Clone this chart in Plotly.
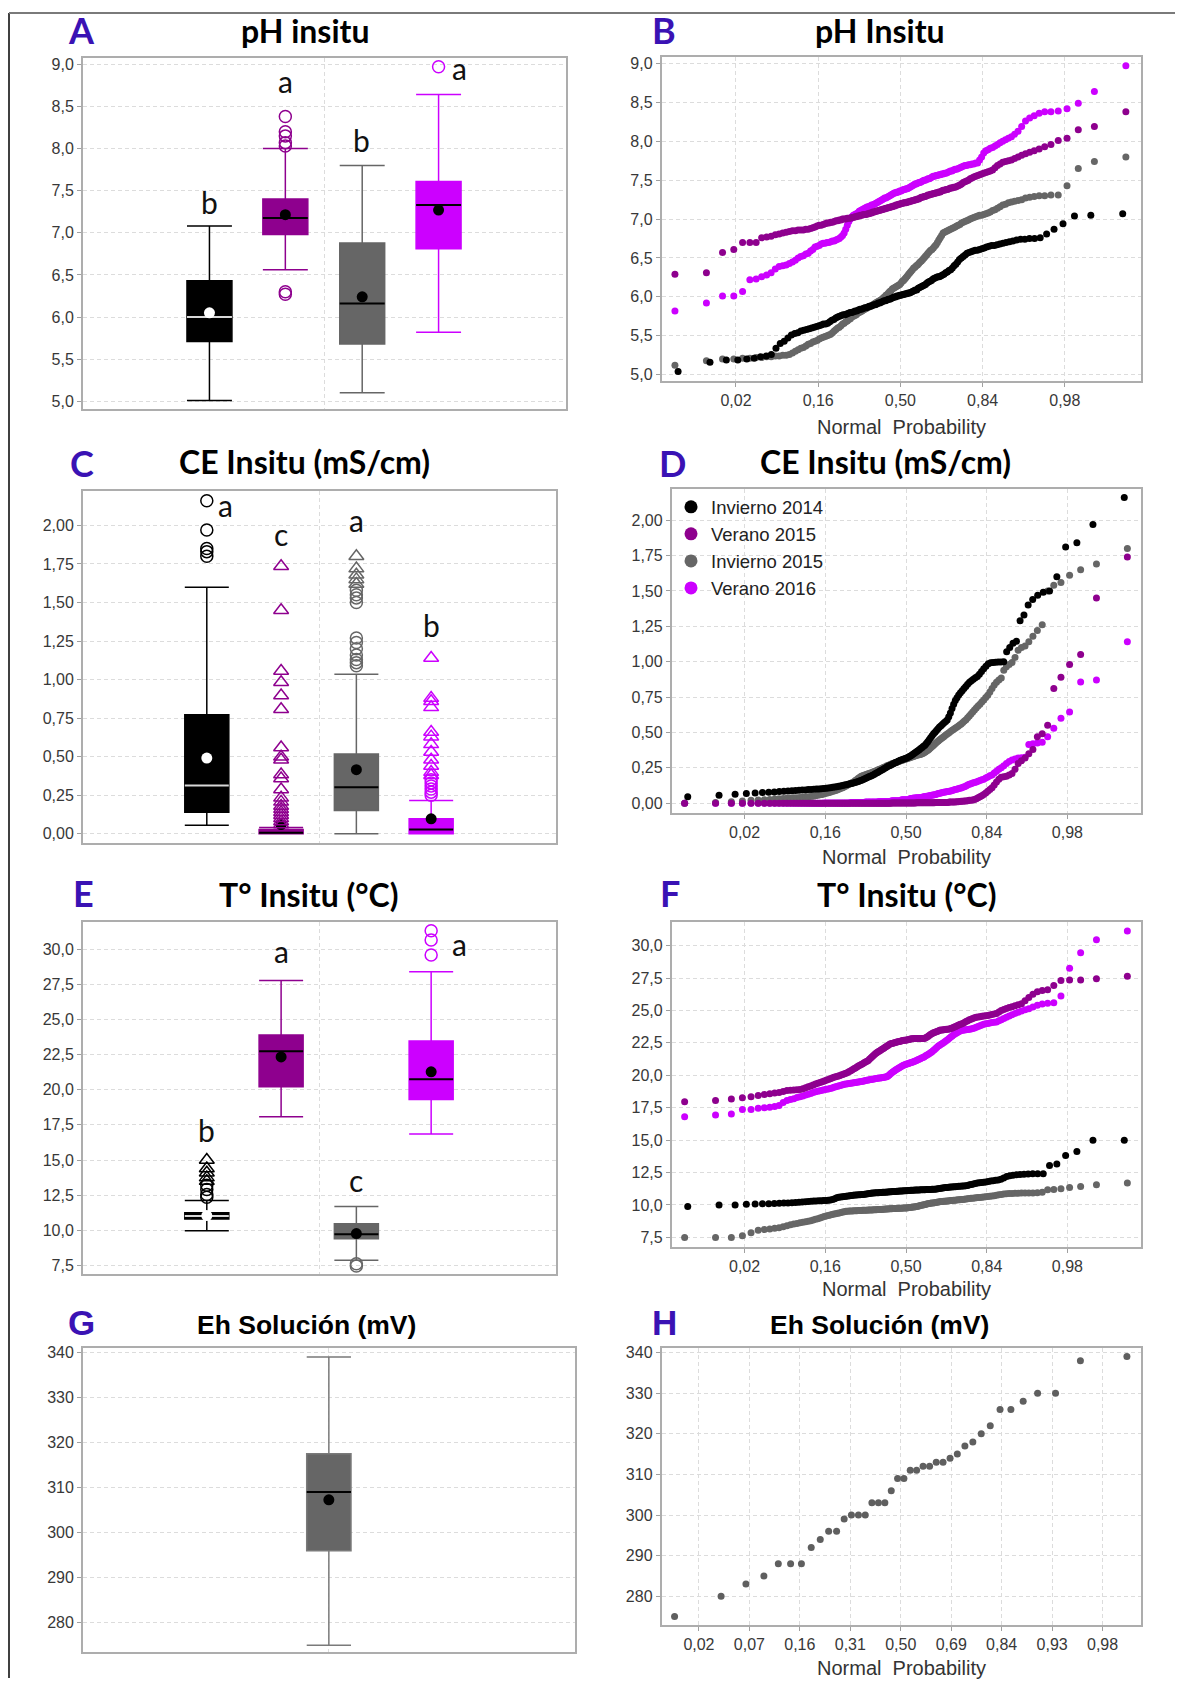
import numpy as np
import plotly.graph_objects as go
from statistics import NormalDist

# ------------------------------------------------------------------ DATA
SERIES = ["Invierno 2014", "Verano 2015", "Invierno 2015", "Verano 2016"]

# pH in situ (sorted values per campaign)
PH_INV14 = [5.04, 5.16, 5.19, 5.19, 5.20, 5.21, 5.23, 5.24, 5.26, 5.34,
            5.40, 5.43, 5.47, 5.51, 5.53, 5.54, 5.56, 5.57, 5.58, 5.59,
            5.60, 5.61, 5.62, 5.63, 5.64, 5.65, 5.65, 5.66, 5.68, 5.70,
            5.71, 5.73, 5.74, 5.75, 5.76, 5.77, 5.77, 5.78, 5.79, 5.80,
            5.80, 5.81, 5.82, 5.82, 5.83, 5.84, 5.84, 5.85, 5.86, 5.86,
            5.87, 5.88, 5.88, 5.89, 5.90, 5.90, 5.91, 5.92, 5.92, 5.93,
            5.94, 5.95, 5.95, 5.96, 5.97, 5.97, 5.98, 5.99, 6.00, 6.00,
            6.01, 6.01, 6.02, 6.02, 6.03, 6.03, 6.04, 6.04, 6.05, 6.05,
            6.06, 6.07, 6.08, 6.09, 6.09, 6.11, 6.12, 6.13, 6.14, 6.15,
            6.16, 6.18, 6.19, 6.20, 6.21, 6.23, 6.24, 6.25, 6.26, 6.26,
            6.27, 6.28, 6.29, 6.31, 6.32, 6.34, 6.35, 6.37, 6.40, 6.42,
            6.45, 6.48, 6.50, 6.52, 6.54, 6.56, 6.57, 6.58, 6.59, 6.60,
            6.60, 6.61, 6.62, 6.63, 6.64, 6.65, 6.66, 6.66, 6.67, 6.68,
            6.69, 6.70, 6.71, 6.72, 6.73, 6.74, 6.74, 6.75, 6.75, 6.76,
            6.81, 6.87, 6.94, 7.04, 7.05, 7.07]
PH_VER15 = [6.29, 6.31, 6.57, 6.61, 6.70, 6.70, 6.70, 6.76, 6.77, 6.78,
            6.80, 6.81, 6.82, 6.83, 6.84, 6.85, 6.85, 6.86, 6.86, 6.86,
            6.87, 6.87, 6.88, 6.89, 6.90, 6.91, 6.92, 6.92, 6.93, 6.94,
            6.95, 6.95, 6.96, 6.96, 6.97, 6.98, 6.98, 6.99, 6.99, 7.00,
            7.00, 7.00, 7.01, 7.01, 7.01, 7.02, 7.02, 7.03, 7.03, 7.04,
            7.04, 7.05, 7.05, 7.06, 7.06, 7.06, 7.07, 7.07, 7.08, 7.08,
            7.09, 7.09, 7.10, 7.10, 7.11, 7.11, 7.12, 7.12, 7.13, 7.13,
            7.14, 7.14, 7.15, 7.15, 7.16, 7.16, 7.17, 7.17, 7.18, 7.18,
            7.19, 7.19, 7.20, 7.20, 7.21, 7.21, 7.21, 7.22, 7.22, 7.23,
            7.23, 7.24, 7.24, 7.25, 7.25, 7.26, 7.26, 7.27, 7.28, 7.28,
            7.29, 7.29, 7.30, 7.31, 7.31, 7.32, 7.32, 7.33, 7.33, 7.34,
            7.34, 7.35, 7.35, 7.36, 7.37, 7.37, 7.38, 7.38, 7.39, 7.40,
            7.40, 7.41, 7.41, 7.42, 7.43, 7.44, 7.45, 7.47, 7.48, 7.49,
            7.50, 7.52, 7.53, 7.54, 7.55, 7.56, 7.57, 7.58, 7.59, 7.60,
            7.61, 7.62, 7.63, 7.66, 7.69, 7.71, 7.73, 7.74, 7.75, 7.76,
            7.78, 7.80, 7.82, 7.84, 7.86, 7.88, 7.90, 7.93, 7.96, 8.01,
            8.04, 8.15, 8.19, 8.38]
PH_INV15 = [5.12, 5.18, 5.20, 5.20, 5.21, 5.21, 5.22, 5.22, 5.23, 5.23,
            5.24, 5.24, 5.25, 5.25, 5.26, 5.28, 5.30, 5.32, 5.34, 5.35,
            5.37, 5.39, 5.40, 5.42, 5.43, 5.44, 5.46, 5.47, 5.48, 5.49,
            5.50, 5.51, 5.52, 5.54, 5.56, 5.58, 5.60, 5.61, 5.63, 5.65,
            5.66, 5.68, 5.69, 5.71, 5.72, 5.74, 5.75, 5.76, 5.77, 5.79,
            5.80, 5.81, 5.82, 5.83, 5.84, 5.85, 5.86, 5.87, 5.88, 5.89,
            5.90, 5.91, 5.92, 5.93, 5.94, 5.95, 5.96, 5.97, 5.99, 6.00,
            6.02, 6.03, 6.05, 6.07, 6.08, 6.10, 6.11, 6.12, 6.13, 6.14,
            6.15, 6.16, 6.18, 6.20, 6.21, 6.23, 6.25, 6.27, 6.29, 6.31,
            6.33, 6.35, 6.37, 6.38, 6.40, 6.41, 6.43, 6.45, 6.46, 6.48,
            6.50, 6.52, 6.54, 6.56, 6.58, 6.60, 6.61, 6.63, 6.65, 6.67,
            6.70, 6.73, 6.76, 6.79, 6.82, 6.83, 6.84, 6.85, 6.86, 6.87,
            6.88, 6.89, 6.90, 6.91, 6.92, 6.93, 6.95, 6.96, 6.97, 6.98,
            6.99, 7.00, 7.01, 7.02, 7.03, 7.04, 7.05, 7.05, 7.06, 7.07,
            7.08, 7.09, 7.11, 7.12, 7.14, 7.16, 7.18, 7.19, 7.21, 7.22,
            7.23, 7.24, 7.25, 7.27, 7.28, 7.29, 7.30, 7.30, 7.31, 7.31,
            7.43, 7.65, 7.74, 7.80]
PH_VER16 = [5.82, 5.92, 6.01, 6.01, 6.07, 6.22, 6.23, 6.26, 6.28, 6.31,
            6.36, 6.39, 6.40, 6.41, 6.43, 6.45, 6.47, 6.50, 6.52, 6.53,
            6.55, 6.56, 6.59, 6.61, 6.64, 6.65, 6.66, 6.68, 6.69, 6.69,
            6.70, 6.70, 6.71, 6.72, 6.72, 6.73, 6.74, 6.75, 6.77, 6.79,
            6.82, 6.87, 6.92, 6.97, 7.00, 7.03, 7.05, 7.06, 7.07, 7.08,
            7.10, 7.11, 7.12, 7.13, 7.14, 7.15, 7.16, 7.16, 7.17, 7.18,
            7.18, 7.19, 7.20, 7.21, 7.22, 7.23, 7.24, 7.25, 7.26, 7.27,
            7.27, 7.28, 7.29, 7.30, 7.31, 7.32, 7.33, 7.34, 7.34, 7.35,
            7.35, 7.36, 7.36, 7.37, 7.38, 7.38, 7.39, 7.39, 7.40, 7.41,
            7.42, 7.43, 7.44, 7.45, 7.45, 7.46, 7.47, 7.47, 7.48, 7.49,
            7.50, 7.50, 7.51, 7.52, 7.52, 7.53, 7.54, 7.55, 7.55, 7.56,
            7.56, 7.57, 7.57, 7.58, 7.58, 7.59, 7.59, 7.60, 7.61, 7.62,
            7.62, 7.63, 7.64, 7.64, 7.65, 7.66, 7.67, 7.68, 7.69, 7.69,
            7.70, 7.70, 7.71, 7.71, 7.72, 7.72, 7.76, 7.80, 7.85, 7.88,
            7.89, 7.91, 7.92, 7.94, 7.96, 7.98, 8.00, 8.02, 8.04, 8.06,
            8.09, 8.13, 8.19, 8.26, 8.30, 8.33, 8.36, 8.38, 8.38, 8.39,
            8.42, 8.49, 8.64, 8.97]

# CE in situ (mS/cm)
CE_INV14 = [0.045, 0.056, 0.063, 0.068, 0.072, 0.076, 0.078, 0.080, 0.082, 0.085,
            0.087, 0.088, 0.090, 0.091, 0.093, 0.094, 0.096, 0.097, 0.099, 0.100,
            0.101, 0.102, 0.104, 0.106, 0.108, 0.110, 0.112, 0.114, 0.117, 0.120,
            0.122, 0.125, 0.128, 0.131, 0.134, 0.137, 0.140, 0.143, 0.146, 0.150,
            0.154, 0.158, 0.163, 0.168, 0.173, 0.178, 0.183, 0.188, 0.193, 0.198,
            0.203, 0.209, 0.215, 0.221, 0.227, 0.233, 0.239, 0.245, 0.251, 0.257,
            0.262, 0.267, 0.272, 0.277, 0.282, 0.287, 0.292, 0.297, 0.301, 0.305,
            0.309, 0.313, 0.316, 0.320, 0.324, 0.330, 0.336, 0.342, 0.349, 0.356,
            0.363, 0.370, 0.378, 0.386, 0.394, 0.402, 0.410, 0.422, 0.435, 0.448,
            0.462, 0.476, 0.490, 0.502, 0.514, 0.526, 0.538, 0.548, 0.558, 0.568,
            0.578, 0.588, 0.610, 0.638, 0.670, 0.700, 0.725, 0.745, 0.765, 0.780,
            0.795, 0.810, 0.825, 0.840, 0.855, 0.866, 0.876, 0.886, 0.896, 0.912,
            0.930, 0.950, 0.968, 0.985, 0.992, 0.995, 0.996, 0.997, 0.998, 1.000,
            1.070, 1.100, 1.130, 1.145, 1.290, 1.330, 1.400, 1.440, 1.470, 1.490,
            1.500, 1.600, 1.810, 1.840, 1.970, 2.160]
CE_VER15 = [0.000, 0.000, 0.000, 0.000, 0.000, 0.000, 0.000, 0.000, 0.000, 0.000,
            0.000, 0.000, 0.000, 0.000, 0.000, 0.000, 0.000, 0.000, 0.000, 0.000,
            0.000, 0.000, 0.000, 0.000, 0.000, 0.000, 0.000, 0.000, 0.000, 0.000,
            0.000, 0.000, 0.000, 0.000, 0.000, 0.000, 0.000, 0.000, 0.000, 0.000,
            0.000, 0.000, 0.000, 0.000, 0.000, 0.000, 0.000, 0.000, 0.000, 0.000,
            0.000, 0.000, 0.000, 0.000, 0.000, 0.000, 0.000, 0.000, 0.000, 0.000,
            0.000, 0.000, 0.000, 0.000, 0.000, 0.000, 0.000, 0.000, 0.000, 0.000,
            0.001, 0.001, 0.001, 0.001, 0.001, 0.001, 0.001, 0.001, 0.001, 0.001,
            0.001, 0.001, 0.001, 0.001, 0.001, 0.001, 0.001, 0.001, 0.001, 0.001,
            0.003, 0.003, 0.003, 0.003, 0.003, 0.003, 0.003, 0.003, 0.003, 0.003,
            0.003, 0.003, 0.003, 0.003, 0.003, 0.005, 0.005, 0.005, 0.005, 0.005,
            0.005, 0.005, 0.005, 0.005, 0.005, 0.008, 0.008, 0.008, 0.008, 0.008,
            0.010, 0.011, 0.012, 0.013, 0.014, 0.015, 0.016, 0.018, 0.020, 0.021,
            0.023, 0.026, 0.031, 0.038, 0.045, 0.052, 0.062, 0.072, 0.085, 0.097,
            0.110, 0.128, 0.150, 0.170, 0.183, 0.187, 0.190, 0.200, 0.210, 0.240,
            0.280, 0.300, 0.320, 0.350, 0.380, 0.470, 0.490, 0.550, 0.810, 0.890,
            0.980, 1.050, 1.450, 1.740]
CE_INV15 = [0.000, 0.005, 0.010, 0.015, 0.020, 0.022, 0.025, 0.027, 0.029, 0.031,
            0.033, 0.035, 0.036, 0.038, 0.039, 0.040, 0.042, 0.044, 0.046, 0.048,
            0.050, 0.053, 0.056, 0.059, 0.062, 0.066, 0.070, 0.074, 0.078, 0.082,
            0.086, 0.090, 0.095, 0.100, 0.105, 0.110, 0.116, 0.122, 0.128, 0.134,
            0.140, 0.146, 0.152, 0.160, 0.168, 0.176, 0.184, 0.190, 0.194, 0.198,
            0.201, 0.204, 0.208, 0.211, 0.214, 0.218, 0.222, 0.226, 0.230, 0.234,
            0.238, 0.242, 0.246, 0.250, 0.254, 0.258, 0.262, 0.266, 0.270, 0.274,
            0.278, 0.281, 0.284, 0.287, 0.290, 0.293, 0.296, 0.299, 0.302, 0.305,
            0.308, 0.311, 0.314, 0.317, 0.320, 0.323, 0.326, 0.329, 0.332, 0.335,
            0.338, 0.340, 0.342, 0.344, 0.347, 0.351, 0.356, 0.362, 0.368, 0.375,
            0.382, 0.390, 0.398, 0.406, 0.414, 0.424, 0.432, 0.440, 0.448, 0.455,
            0.463, 0.470, 0.478, 0.485, 0.492, 0.500, 0.508, 0.515, 0.522, 0.530,
            0.537, 0.544, 0.552, 0.560, 0.570, 0.580, 0.590, 0.603, 0.616, 0.630,
            0.644, 0.658, 0.672, 0.686, 0.700, 0.715, 0.730, 0.746, 0.762, 0.785,
            0.810, 0.835, 0.855, 0.870, 0.885, 0.940, 0.965, 0.980, 0.995, 1.030,
            1.080, 1.100, 1.110, 1.140, 1.180, 1.220, 1.260, 1.500, 1.540, 1.560,
            1.610, 1.650, 1.690, 1.800]
CE_VER16 = [0.000, 0.000, 0.000, 0.000, 0.000, 0.000, 0.000, 0.000, 0.000, 0.000,
            0.000, 0.000, 0.000, 0.000, 0.000, 0.000, 0.000, 0.000, 0.000, 0.000,
            0.000, 0.000, 0.000, 0.000, 0.000, 0.002, 0.002, 0.002, 0.002, 0.002,
            0.002, 0.002, 0.002, 0.002, 0.002, 0.002, 0.002, 0.002, 0.002, 0.002,
            0.005, 0.005, 0.005, 0.005, 0.005, 0.005, 0.005, 0.005, 0.005, 0.005,
            0.008, 0.008, 0.008, 0.008, 0.008, 0.008, 0.008, 0.008, 0.008, 0.008,
            0.012, 0.012, 0.012, 0.012, 0.012, 0.012, 0.012, 0.012, 0.012, 0.012,
            0.018, 0.018, 0.018, 0.018, 0.018, 0.018, 0.018, 0.018, 0.025, 0.025,
            0.025, 0.025, 0.025, 0.025, 0.025, 0.033, 0.034, 0.035, 0.036, 0.037,
            0.038, 0.038, 0.039, 0.040, 0.041, 0.043, 0.045, 0.047, 0.049, 0.050,
            0.052, 0.054, 0.056, 0.058, 0.060, 0.062, 0.065, 0.068, 0.070, 0.072,
            0.075, 0.077, 0.079, 0.081, 0.083, 0.085, 0.087, 0.090, 0.093, 0.096,
            0.099, 0.102, 0.105, 0.108, 0.112, 0.117, 0.122, 0.128, 0.134, 0.138,
            0.142, 0.146, 0.150, 0.155, 0.160, 0.165, 0.170, 0.178, 0.186, 0.194,
            0.200, 0.213, 0.226, 0.240, 0.250, 0.265, 0.280, 0.295, 0.305, 0.312,
            0.320, 0.322, 0.325, 0.415, 0.420, 0.425, 0.430, 0.470, 0.530, 0.600,
            0.645, 0.857, 0.871, 1.141]

# T in situ (°C)
T_INV14 = [9.89, 10.00, 10.00, 10.05, 10.08, 10.10, 10.10, 10.12, 10.14, 10.15,
           10.16, 10.18, 10.20, 10.21, 10.23, 10.25, 10.26, 10.28, 10.30, 10.31,
           10.32, 10.33, 10.34, 10.35, 10.37, 10.38, 10.42, 10.48, 10.55, 10.60,
           10.62, 10.64, 10.66, 10.68, 10.70, 10.72, 10.73, 10.75, 10.76, 10.77,
           10.78, 10.79, 10.80, 10.81, 10.83, 10.84, 10.86, 10.88, 10.90, 10.92,
           10.93, 10.94, 10.95, 10.95, 10.96, 10.97, 10.98, 10.98, 10.99, 11.00,
           11.00, 11.01, 11.02, 11.03, 11.03, 11.04, 11.05, 11.06, 11.07, 11.08,
           11.08, 11.09, 11.10, 11.10, 11.11, 11.12, 11.13, 11.13, 11.14, 11.15,
           11.15, 11.16, 11.16, 11.17, 11.17, 11.18, 11.18, 11.19, 11.19, 11.20,
           11.20, 11.21, 11.21, 11.22, 11.23, 11.25, 11.27, 11.29, 11.31, 11.33,
           11.34, 11.35, 11.36, 11.38, 11.39, 11.40, 11.41, 11.42, 11.44, 11.45,
           11.46, 11.47, 11.48, 11.51, 11.55, 11.58, 11.62, 11.66, 11.69, 11.71,
           11.73, 11.75, 11.78, 11.81, 11.84, 11.87, 11.90, 11.93, 11.98, 12.08,
           12.20, 12.25, 12.30, 12.33, 12.35, 12.37, 12.39, 12.40, 12.40, 12.40,
           13.04, 13.15, 13.81, 14.12, 15.00, 15.00]
T_VER15 = [17.96, 18.06, 18.17, 18.27, 18.35, 18.45, 18.52, 18.58, 18.63, 18.67,
           18.75, 18.82, 18.85, 18.87, 18.89, 18.91, 18.97, 19.04, 19.11, 19.18,
           19.25, 19.32, 19.38, 19.44, 19.50, 19.56, 19.62, 19.68, 19.74, 19.79,
           19.84, 19.88, 19.93, 19.97, 20.02, 20.07, 20.12, 20.15, 20.22, 20.29,
           20.36, 20.43, 20.50, 20.57, 20.64, 20.71, 20.77, 20.84, 20.90, 20.96,
           21.03, 21.09, 21.15, 21.25, 21.35, 21.45, 21.55, 21.65, 21.72, 21.79,
           21.85, 21.92, 21.99, 22.05, 22.11, 22.18, 22.24, 22.30, 22.37, 22.43,
           22.46, 22.48, 22.51, 22.53, 22.56, 22.58, 22.61, 22.63, 22.66, 22.68,
           22.70, 22.71, 22.73, 22.75, 22.77, 22.79, 22.81, 22.82, 22.83, 22.83,
           22.83, 22.83, 22.83, 22.83, 22.83, 22.83, 22.84, 22.88, 22.94, 23.00,
           23.07, 23.14, 23.21, 23.26, 23.30, 23.34, 23.38, 23.42, 23.47, 23.49,
           23.50, 23.52, 23.53, 23.55, 23.56, 23.58, 23.60, 23.65, 23.70, 23.75,
           23.81, 23.86, 23.91, 23.96, 24.00, 24.07, 24.14, 24.21, 24.28, 24.33,
           24.38, 24.43, 24.48, 24.50, 24.52, 24.55, 24.57, 24.59, 24.61, 24.65,
           24.69, 24.73, 24.77, 24.88, 24.99, 25.08, 25.15, 25.22, 25.28, 25.36,
           25.44, 25.51, 25.75, 26.00, 26.25, 26.45, 26.54, 26.60, 26.93, 27.31,
           27.35, 27.35, 27.44, 27.64]
T_INV15 = [7.49, 7.49, 7.49, 7.62, 7.85, 8.05, 8.10, 8.15, 8.20, 8.25,
           8.32, 8.40, 8.47, 8.53, 8.57, 8.62, 8.66, 8.70, 8.74, 8.79,
           8.84, 8.89, 8.94, 8.99, 9.05, 9.11, 9.14, 9.18, 9.22, 9.26,
           9.30, 9.33, 9.36, 9.39, 9.42, 9.45, 9.48, 9.51, 9.52, 9.53,
           9.53, 9.54, 9.55, 9.55, 9.56, 9.57, 9.58, 9.58, 9.59, 9.59,
           9.60, 9.60, 9.61, 9.61, 9.62, 9.62, 9.63, 9.64, 9.64, 9.65,
           9.65, 9.66, 9.66, 9.67, 9.67, 9.68, 9.68, 9.69, 9.70, 9.71,
           9.71, 9.72, 9.72, 9.73, 9.73, 9.74, 9.74, 9.75, 9.75, 9.76,
           9.76, 9.76, 9.77, 9.78, 9.80, 9.81, 9.82, 9.84, 9.85, 9.87,
           9.89, 9.91, 9.93, 9.95, 9.97, 10.00, 10.02, 10.04, 10.07, 10.10,
           10.12, 10.13, 10.15, 10.16, 10.18, 10.20, 10.21, 10.23, 10.24, 10.26,
           10.27, 10.28, 10.29, 10.30, 10.31, 10.32, 10.34, 10.35, 10.36, 10.37,
           10.38, 10.40, 10.41, 10.42, 10.43, 10.45, 10.46, 10.48, 10.49, 10.51,
           10.52, 10.54, 10.55, 10.57, 10.58, 10.60, 10.61, 10.63, 10.65, 10.67,
           10.70, 10.72, 10.75, 10.78, 10.81, 10.84, 10.86, 10.88, 10.89, 10.90,
           10.91, 10.92, 10.92, 10.92, 10.92, 10.95, 10.98, 11.17, 11.20, 11.25,
           11.35, 11.43, 11.56, 11.69]
T_VER16 = [16.81, 16.94, 17.01, 17.37, 17.37, 17.45, 17.50, 17.53, 17.60, 17.68,
           17.90, 18.06, 18.13, 18.20, 18.28, 18.35, 18.41, 18.48, 18.54, 18.60,
           18.67, 18.73, 18.77, 18.80, 18.84, 18.88, 18.92, 18.95, 18.99, 19.03,
           19.07, 19.11, 19.15, 19.19, 19.23, 19.27, 19.31, 19.33, 19.35, 19.37,
           19.38, 19.40, 19.42, 19.44, 19.46, 19.48, 19.50, 19.52, 19.55, 19.57,
           19.59, 19.61, 19.63, 19.66, 19.68, 19.70, 19.72, 19.74, 19.76, 19.77,
           19.79, 19.80, 19.82, 19.83, 19.85, 19.86, 19.88, 19.95, 20.03, 20.11,
           20.19, 20.27, 20.34, 20.40, 20.46, 20.52, 20.58, 20.64, 20.70, 20.76,
           20.80, 20.84, 20.87, 20.90, 20.93, 20.96, 20.99, 21.02, 21.06, 21.11,
           21.15, 21.20, 21.24, 21.28, 21.33, 21.37, 21.41, 21.48, 21.54, 21.60,
           21.67, 21.73, 21.80, 21.89, 21.98, 22.07, 22.16, 22.25, 22.32, 22.39,
           22.46, 22.53, 22.60, 22.68, 22.77, 22.86, 22.95, 23.04, 23.13, 23.20,
           23.27, 23.34, 23.40, 23.46, 23.48, 23.50, 23.52, 23.54, 23.56, 23.58,
           23.60, 23.65, 23.70, 23.76, 23.82, 23.88, 23.93, 23.97, 24.00, 24.04,
           24.07, 24.10, 24.12, 24.20, 24.29, 24.38, 24.47, 24.57, 24.67, 24.77,
           24.87, 24.96, 25.05, 25.13, 25.27, 25.40, 25.50, 25.55, 25.60, 26.11,
           28.26, 29.46, 30.46, 31.13]

# Eh solución (mV)
EH_SOL = [275, 280, 283, 285, 288, 288, 288, 292, 294, 296,
          296, 299, 300, 300, 300, 303, 303, 303, 306, 309,
          309, 311, 311, 312, 312, 313, 313, 314, 315, 317,
          318, 320, 322, 326, 326, 328, 330, 330, 338, 339]

PH_LO = [5.01, 6.56, 5.10, 5.82]
PH_Q1 = [5.71, 6.98, 5.68, 6.81]
PH_MED = [6.00, 7.175, 6.16, 7.33]
PH_Q3 = [6.43, 7.40, 6.88, 7.61]
PH_HI = [7.08, 8.00, 7.80, 8.64]
PH_MEAN = [6.05, 7.215, 6.24, 7.27]
PH_OUT_CIRC = [[], [8.38, 8.20, 8.15, 8.07, 8.03, 6.30, 6.27], [], [8.97]]
PH_OUT_TRI = [[], [], [], []]
PH_LETTERS = ["b", "a", "b", "a"]

CE_LO = [0.056, 0.0, 0.0, 0.0]
CE_Q1 = [0.140, 0.0, 0.151, 0.0]
CE_MED = [0.3125, 0.006, 0.302, 0.028]
CE_Q3 = [0.772, 0.028, 0.517, 0.097]
CE_HI = [1.599, 0.04, 1.034, 0.2155]
CE_MEAN = [0.491, 0.06, 0.416, 0.097]
CE_OUT_CIRC = [[2.16, 1.97, 1.85, 1.83, 1.80], [],
               [1.27, 1.24, 1.20, 1.16, 1.13, 1.11, 1.09, 1.58, 1.55, 1.53, 1.50],
               [0.35, 0.33, 0.31, 0.29, 0.27, 0.25]]
CE_OUT_TRI = [[],
              [1.735, 1.45, 1.056, 0.983, 0.897, 0.808, 0.56, 0.50, 0.48, 0.384, 0.358,
               0.287, 0.233, 0.207, 0.18, 0.16, 0.14, 0.12, 0.10, 0.08, 0.06],
              [1.80, 1.72, 1.68, 1.65, 1.62],
              [1.14, 0.88, 0.86, 0.82, 0.66, 0.63, 0.58, 0.53, 0.48, 0.44, 0.40, 0.38]]
CE_LETTERS = ["a", "c", "a", "b"]

T_LO = [9.98, 18.08, 7.88, 16.85]
T_Q1 = [10.80, 20.20, 9.41, 19.31]
T_MED = [11.02, 22.73, 9.72, 20.75]
T_Q3 = [11.25, 23.89, 10.47, 23.46]
T_HI = [12.13, 27.76, 11.70, 28.39]
T_MEAN = [11.05, 22.33, 9.77, 21.27]
T_OUT_CIRC = [[13.2, 12.9, 12.55, 12.35], [], [7.62, 7.46], [31.30, 30.64, 29.58]]
T_OUT_TRI = [[15.0, 14.4, 14.1, 13.75, 13.5], [], [], []]
T_LETTERS = ["b", "a", "c", "a"]

PROB_TICKS_Z = [-2, -1, 0, 1, 2]
PROB_TICKTEXT = ["0,02", "0,16", "0,50", "0,84", "0,98"]
EH_TICKS_Z = [-2, -1.5, -1, -0.5, 0, 0.5, 1, 1.5, 2]
EH_TICKTEXT = ["0,02", "0,07", "0,16", "0,31", "0,50", "0,69", "0,84", "0,93", "0,98"]

# ------------------------------------------------------------------ STYLE / LAYOUT
PAGE_W, PAGE_H = 1183, 1688
OFF = 8                       # default body margin of the html page
W, H = PAGE_W - 2 * OFF, PAGE_H - 2 * OFF
COLORS = ["#000000", "#8E008E", "#666666", "#CC00FF"]
LETTER_COLOR = "#3A12B4"
TICK_FONT = dict(family="Liberation Sans, Arial, sans-serif", size=16, color="#383838")
ARIAL_BOLD = "Liberation Sans, Arial, sans-serif"


def fx(x):
    return (x - OFF) / W


def fy(y):
    return 1 - (y - OFF) / H


# panel frames in page pixels: left, top, right, bottom
FRAMES = {
    "A": (82.8, 53.7, 566.2, 406.3),
    "B": (661.5, 53.0, 1141.2, 378.7),
    "C": (82.8, 488.3, 556.1, 841.7),
    "D": (671.6, 486.3, 1141.2, 812.0),
    "E": (82.8, 921.7, 556.1, 1275.0),
    "F": (671.6, 921.7, 1141.2, 1247.3),
    "G": (82.8, 1349.3, 574.9, 1654.3),
    "H": (661.5, 1349.3, 1141.2, 1626.7),
}
IDX = {k: i + 1 for i, k in enumerate("ABCDEFGH")}
BOX_POS = [0.262, 0.419, 0.578, 0.736]
BOX_W = 0.093


def xref(p):
    return "x" if IDX[p] == 1 else f"x{IDX[p]}"


def yref(p):
    return "y" if IDX[p] == 1 else f"y{IDX[p]}"


def xkey(p):
    return "xaxis" if IDX[p] == 1 else f"xaxis{IDX[p]}"


def ykey(p):
    return "yaxis" if IDX[p] == 1 else f"yaxis{IDX[p]}"


AX_COMMON = dict(showline=True, linecolor="#ADADAD", linewidth=1.5, mirror=True,
                 showgrid=True, gridcolor="#DCDCDC", griddash="4px,3px", gridwidth=1,
                 zeroline=False, ticks="outside", ticklen=4, tickcolor="#A0A0A0",
                 tickfont=TICK_FONT, fixedrange=True)

fig = go.Figure()
layout = dict(width=W, height=H, margin=dict(l=0, r=0, t=0, b=0),
              paper_bgcolor="white", plot_bgcolor="white", separators=",.",
              showlegend=True)

YSPEC = {
    "A": dict(range=[4.91, 9.08], tickvals=[5, 5.5, 6, 6.5, 7, 7.5, 8, 8.5, 9], tickformat=".1f"),
    "B": dict(range=[4.914, 9.086], tickvals=[5, 5.5, 6, 6.5, 7, 7.5, 8, 8.5, 9], tickformat=".1f"),
    "C": dict(range=[-0.058, 2.226], tickvals=[0, 0.25, 0.5, 0.75, 1, 1.25, 1.5, 1.75, 2], tickformat=".2f"),
    "D": dict(range=[-0.070, 2.223], tickvals=[0, 0.25, 0.5, 0.75, 1, 1.25, 1.5, 1.75, 2], tickformat=".2f"),
    "E": dict(range=[6.865, 31.89], tickvals=[7.5, 10, 12.5, 15, 17.5, 20, 22.5, 25, 27.5, 30], tickformat=".1f"),
    "F": dict(range=[6.77, 31.79], tickvals=[7.5, 10, 12.5, 15, 17.5, 20, 22.5, 25, 27.5, 30], tickformat=".1f"),
    "G": dict(range=[273.4, 340.9], tickvals=[280, 290, 300, 310, 320, 330, 340], tickformat="d"),
    "H": dict(range=[272.95, 341.0], tickvals=[280, 290, 300, 310, 320, 330, 340], tickformat="d"),
}
XSPEC = {
    "B": dict(range=[-2.906, 2.929], tickvals=PROB_TICKS_Z, ticktext=PROB_TICKTEXT),
    "D": dict(range=[-2.904, 2.914], tickvals=PROB_TICKS_Z, ticktext=PROB_TICKTEXT),
    "F": dict(range=[-2.904, 2.914], tickvals=PROB_TICKS_Z, ticktext=PROB_TICKTEXT),
    "H": dict(range=[-2.371, 2.383], tickvals=EH_TICKS_Z, ticktext=EH_TICKTEXT),
}

for p, (l, t, r, b) in FRAMES.items():
    xa = dict(AX_COMMON, domain=[fx(l), fx(r)], anchor=yref(p))
    ya = dict(AX_COMMON, domain=[fy(b), fy(t)], anchor=xref(p))
    ya.update(YSPEC[p])
    if p in XSPEC:
        xa.update(XSPEC[p])
    else:
        xa.update(range=[0, 1], tickvals=[0.5], showticklabels=False, ticks="")
    layout[xkey(p)] = xa
    layout[ykey(p)] = ya


# ---------------------------------------------------------------- box panels
def box_panel(p, lo, q1, med, q3, hi, mean, circ, tri):
    for i in range(4):
        c = COLORS[i]
        pos = BOX_POS[i]
        fig.add_trace(go.Box(x=[pos], q1=[q1[i]], median=[med[i]], q3=[q3[i]],
                             lowerfence=[lo[i]], upperfence=[hi[i]], orientation="v",
                             width=BOX_W, whiskerwidth=1, fillcolor=c,
                             line=dict(color=c, width=1.5), boxpoints=False,
                             xaxis=xref(p), yaxis=yref(p), showlegend=False,
                             hoverinfo="skip"))
        mcol = "#D8D8D8" if i == 0 else "#000000"
        fig.add_trace(go.Scatter(x=[pos - BOX_W / 2, pos + BOX_W / 2], y=[med[i], med[i]],
                                 mode="lines", line=dict(color=mcol, width=2),
                                 xaxis=xref(p), yaxis=yref(p), showlegend=False,
                                 hoverinfo="skip"))
        fig.add_trace(go.Scatter(x=[pos], y=[mean[i]], mode="markers",
                                 marker=dict(size=11, color="white" if i == 0 else "black"),
                                 xaxis=xref(p), yaxis=yref(p), showlegend=False,
                                 hoverinfo="skip"))
        if circ[i]:
            fig.add_trace(go.Scatter(x=[pos] * len(circ[i]), y=circ[i], mode="markers",
                                     marker=dict(symbol="circle-open", size=12, color=c,
                                                 line=dict(width=1.5, color=c)),
                                     xaxis=xref(p), yaxis=yref(p), showlegend=False,
                                     hoverinfo="skip"))
        if tri[i]:
            fig.add_trace(go.Scatter(x=[pos] * len(tri[i]), y=tri[i], mode="markers",
                                     marker=dict(symbol="triangle-up-open", size=13, color=c,
                                                 line=dict(width=1.5, color=c)),
                                     xaxis=xref(p), yaxis=yref(p), showlegend=False,
                                     hoverinfo="skip"))


box_panel("A", PH_LO, PH_Q1, PH_MED, PH_Q3, PH_HI, PH_MEAN, PH_OUT_CIRC, PH_OUT_TRI)
box_panel("C", CE_LO, CE_Q1, CE_MED, CE_Q3, CE_HI, CE_MEAN, CE_OUT_CIRC, CE_OUT_TRI)
box_panel("E", T_LO, T_Q1, T_MED, T_Q3, T_HI, T_MEAN, T_OUT_CIRC, T_OUT_TRI)

# G: Eh box from raw data
fig.add_trace(go.Box(y=EH_SOL, x0=0.5, width=0.09, whiskerwidth=1, fillcolor="#666666",
                     line=dict(color="#7A7A7A", width=1.5), boxpoints=False,
                     xaxis=xref("G"), yaxis=yref("G"), showlegend=False, hoverinfo="skip"))
fig.add_trace(go.Scatter(x=[0.455, 0.545], y=[float(np.median(EH_SOL))] * 2, mode="lines",
                         line=dict(color="black", width=2), xaxis=xref("G"), yaxis=yref("G"),
                         showlegend=False, hoverinfo="skip"))
fig.add_trace(go.Scatter(x=[0.5], y=[float(np.mean(EH_SOL))], mode="markers",
                         marker=dict(size=11, color="black"), xaxis=xref("G"), yaxis=yref("G"),
                         showlegend=False, hoverinfo="skip"))


# ---------------------------------------------------------------- probability panels
def zpos(n):
    nd = NormalDist()
    return [nd.inv_cdf((i - 0.5) / n) for i in range(1, n + 1)]


def prob_panel(p, series):
    # drawn back-to-front: Verano 2016, Invierno 2015, Verano 2015, Invierno 2014
    for i in [3, 2, 1, 0]:
        vals = series[i]
        fig.add_trace(go.Scatter(x=zpos(len(vals)), y=vals, mode="markers",
                                 marker=dict(size=7, color=COLORS[i]),
                                 xaxis=xref(p), yaxis=yref(p), showlegend=False,
                                 hoverinfo="skip"))


prob_panel("B", [PH_INV14, PH_VER15, PH_INV15, PH_VER16])
prob_panel("D", [CE_INV14, CE_VER15, CE_INV15, CE_VER16])
prob_panel("F", [T_INV14, T_VER15, T_INV15, T_VER16])
fig.add_trace(go.Scatter(x=zpos(len(EH_SOL)), y=EH_SOL, mode="markers",
                         marker=dict(size=7, color="#5F5F5F"), xaxis=xref("H"), yaxis=yref("H"),
                         showlegend=False, hoverinfo="skip"))

# legend entries (panel D)
for i, s in enumerate(SERIES):
    fig.add_trace(go.Scatter(x=[None], y=[None], mode="markers", name=s,
                             marker=dict(size=13, color=COLORS[i]),
                             xaxis=xref("D"), yaxis=yref("D"), showlegend=True))

layout["legend"] = dict(x=fx(671), y=fy(486), xanchor="left", yanchor="top",
                        bgcolor="rgba(0,0,0,0)", borderwidth=0, tracegroupgap=0,
                        font=dict(family="Liberation Sans, Arial, sans-serif", size=18.5,
                                  color="#222222"),
                        itemclick=False, itemdoubleclick=False)

# ---------------------------------------------------------------- annotations
ann = []


def paper_text(x, y, text, font, **kw):
    d = dict(x=fx(x), y=fy(y), xref="paper", yref="paper", text=text, showarrow=False,
             font=font, xanchor="center", yanchor="middle")
    d.update(kw)
    ann.append(d)


letter_font = dict(family="Lato, sans-serif", size=36, color=LETTER_COLOR, weight="bold")
letter_font_ar = dict(family=ARIAL_BOLD, size=35, color=LETTER_COLOR, weight="bold")
title_font = dict(family="Lato, sans-serif", size=32, color="#000000", weight="bold")
title_font_ar = dict(family=ARIAL_BOLD, size=26.5, color="#000000", weight="bold")

for lab, (x, y) in {"A": (81.8, 26.0), "B": (664, 26.0), "C": (81.5, 460.5), "D": (672.7, 460.5),
                    "E": (83.3, 892.3), "F": (669.6, 892.5)}.items():
    paper_text(x, y, lab, letter_font)
for lab, (x, y) in {"G": (81.6, 1323.3), "H": (664.1, 1323.3)}.items():
    paper_text(x, y, lab, letter_font_ar)

paper_text(304.7, 27.0, "pH insitu", title_font)
paper_text(879.7, 27.0, "pH Insitu", title_font)
paper_text(304.7, 459.5, "CE Insitu (mS/cm)", title_font)
paper_text(885.3, 459.5, "CE Insitu (mS/cm)", title_font)
paper_text(308.6, 893.5, "T° Insitu (°C)", title_font)
paper_text(907, 893.5, "T° Insitu (°C)", title_font)
paper_text(306.6, 1325.7, "Eh Solución (mV)", title_font_ar)
paper_text(879.7, 1325.7, "Eh Solución (mV)", title_font_ar)

np_font = dict(family="Liberation Sans, Arial, sans-serif", size=20, color="#333333")
for x, y in [(901.5, 424.0), (906, 856), (906, 1290), (901.5, 1669.5)]:
    paper_text(x, y, "Normal\u00a0 Probability", np_font)

# significance letters (placed in data coordinates of each box panel)
LETTER_SPOTS = {
    "A": ([0.262, 0.419, 0.577, 0.78], [7.345, 8.744, 8.074, 8.90], PH_LETTERS),
    "C": ([0.302, 0.419, 0.578, 0.736], [2.097, 1.914, 2.0, 1.343], CE_LETTERS),
    "E": ([0.262, 0.419, 0.578, 0.796], [17.02, 29.53, 13.24, 30.0], T_LETTERS),
}
sig_font = dict(family="Lato, sans-serif", size=30, color="#111111")
for p, (xs, ys, labs) in LETTER_SPOTS.items():
    for x, y, t in zip(xs, ys, labs):
        ann.append(dict(x=x, y=y, xref=xref(p), yref=yref(p), text=t, showarrow=False,
                        font=sig_font, xanchor="center", yanchor="middle",
                        yshift=2 if t == "b" else 5))

layout["annotations"] = ann

# outer frame lines
layout["shapes"] = [
    dict(type="line", xref="paper", yref="paper", x0=fx(9), x1=fx(9), y0=0, y1=fy(9),
         line=dict(color="#000000", width=1.5)),
    dict(type="line", xref="paper", yref="paper", x0=fx(9), x1=1, y0=fy(9), y1=fy(9),
         line=dict(color="#7A7A7A", width=2)),
]

fig.update_layout(**layout)
fig.write_html("out.html")
